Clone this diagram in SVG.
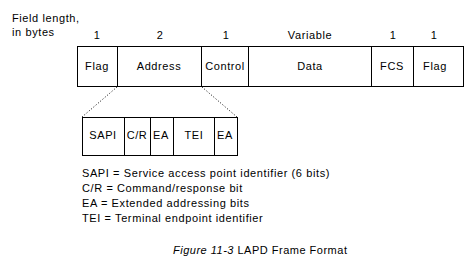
<svg xmlns="http://www.w3.org/2000/svg" width="471" height="268" viewBox="0 0 471 268">
<style>
text{font-family:"Liberation Sans",Arial,sans-serif;font-size:11px;letter-spacing:0.6px;fill:#000}
.c{text-anchor:middle}
.box{fill:#fff;stroke:#000;stroke-width:1}
.dot{stroke:#000;stroke-width:1;stroke-dasharray:1 2;fill:none}
</style>
<rect width="471" height="268" fill="#fff"/>
<text x="12" y="22">Field length,</text>
<text x="12" y="36">in bytes</text>
<g id="lengths">
<text class="c" x="97" y="39">1</text>
<text class="c" x="160" y="39">2</text>
<text class="c" x="226" y="39">1</text>
<text class="c" x="310" y="39">Variable</text>
<text class="c" x="393" y="39">1</text>
<text class="c" x="434" y="39">1</text>
</g>
<g id="frame">
<rect class="box" x="77.5" y="46.5" width="386" height="40"/>
<path d="M117.5 46.5V86.5M201.5 46.5V86.5M248.5 46.5V86.5M371.5 46.5V86.5M413.5 46.5V86.5" stroke="#000" fill="none"/>
<text class="c" x="97" y="70">Flag</text>
<text class="c" x="159" y="70">Address</text>
<text class="c" x="225" y="70">Control</text>
<text class="c" x="310" y="70">Data</text>
<text class="c" x="392" y="70">FCS</text>
<text class="c" x="435" y="70">Flag</text>
</g>
<g id="connectors">
<line class="dot" x1="117" y1="87" x2="82" y2="117"/>
<line class="dot" x1="202" y1="87" x2="237" y2="117"/>
</g>
<g id="address">
<rect class="box" x="82.5" y="117.5" width="155" height="38"/>
<path d="M124.5 117.5V155.5M150.5 117.5V155.5M173.5 117.5V155.5M214.5 117.5V155.5" stroke="#000" fill="none"/>
<text class="c" x="103" y="139">SAPI</text>
<text class="c" x="137" y="139">C/R</text>
<text class="c" x="161" y="139">EA</text>
<text class="c" x="194" y="139">TEI</text>
<text class="c" x="225" y="139">EA</text>
</g>
<g id="legend">
<text x="82" y="177">SAPI = Service access point identifier (6 bits)</text>
<text x="82" y="192">C/R = Command/response bit</text>
<text x="82" y="207">EA = Extended addressing bits</text>
<text x="82" y="222">TEI = Terminal endpoint identifier</text>
</g>
<text x="173" y="254" style="letter-spacing:0.5px"><tspan font-style="italic">Figure 11-3</tspan> LAPD Frame Format</text>
</svg>
